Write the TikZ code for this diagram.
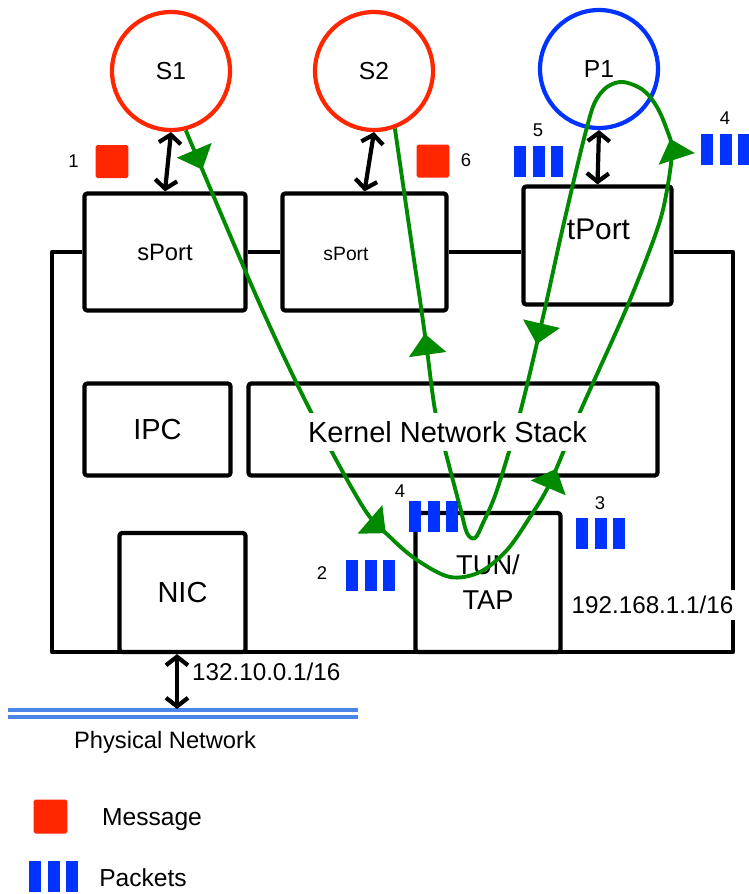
\documentclass[tikz,border=0pt]{standalone}
\usepackage{fontspec}
\setmainfont{Liberation Sans}
\usetikzlibrary{arrows.meta,decorations.markings}

\definecolor{msgred}{RGB}{255,38,0}
\definecolor{pktblue}{RGB}{0,51,255}
\definecolor{netblue}{RGB}{74,134,232}
\definecolor{flowgreen}{RGB}{0,138,0}
\newcommand{\fsz}[1]{\fontsize{#1}{#1}\selectfont}

\begin{document}
\begin{tikzpicture}[
  x=0.02cm,y=-0.02cm,
  line join=round,
  box/.style={draw,line width=2.4pt,rounded corners=1.5pt,inner sep=0pt},
  proc/.style={circle,draw,line width=2.4pt,minimum size=2.36cm,inner sep=0pt,font=\fsz{14}},
  msg/.style={fill=msgred,rounded corners=1pt,minimum size=0.66cm,inner sep=0pt},
  num/.style={font=\fsz{10.5},inner sep=0pt},
  txt/.style={inner sep=1pt},
  wire/.style={line width=2.4pt},
  dbl/.style={line width=2.4pt,{Straight Barb[length=0.17cm,width=0.44cm]}-{Straight Barb[length=0.17cm,width=0.44cm]}},
  flow/.style={flowgreen,line width=2.2pt},
  flowhead/.tip={Triangle[length=0.42cm,width=0.74cm]},
  pkts/.pic={\foreach \i in {0,1,2} \fill[pktblue] (\i*18.5,0) rectangle ++(12,31);}
]
\useasboundingbox (0,0) rectangle (749,894);

% processes and their ports
\node[proc,draw=msgred] (s1) at (171,71) {S1};
\node[proc,draw=msgred] (s2) at (374,71) {S2};
\node[proc,draw=pktblue] (p1) at (599,69) {P1};
\node[box,minimum width=3.22cm,minimum height=2.34cm,font=\fsz{13.5}] (sport1) at (165,252) {sPort};
\node[box,minimum width=3.28cm,minimum height=2.34cm] (sport2) at (364.5,252) {};
\node[txt,font=\fsz{11}] (sport2txt) at (346,254) {sPort};
\node[box,minimum width=2.96cm,minimum height=2.36cm] (tport) at (597.5,245.5) {};
\node[txt,font=\fsz{17}] (tporttxt) at (598.5,229) {tPort};

% kernel row and devices
\node[box,minimum width=2.92cm,minimum height=1.84cm,font=\fsz{16.5}] (ipc) at (157.5,429.5) {IPC};
\node[box,minimum width=8.18cm,minimum height=1.84cm] (kernel) at (453,429.5) {};
\node[box,minimum width=2.52cm,minimum height=2.38cm,font=\fsz{16.5}] (nic) at (182.5,592.5) {NIC};
\node[box,minimum width=2.9cm,minimum height=2.78cm,align=center,font=\fontsize{15.5}{20}\selectfont] (tun) at (488,582.5) {TUN/\\TAP};

% host frame
\coordinate (framebl) at (52,652);
\coordinate (framebr) at (733,652);
\draw[wire] (sport1.west) -| (framebl) -- (framebr) |- (tport.east |- sport2.east);
\draw[wire] (sport1.east) -- (sport2.west);
\draw[wire] (sport2.east) -- (sport2.east -| tport.west);

\draw[dbl] (s1.south) -- (sport1.north);
\draw[dbl] (s2.south) -- (sport2.north);
\draw[dbl] (p1.south) -- (tport.north);

% physical network
\coordinate (netl) at (8,713.5);
\coordinate (netr) at (358,713.5);
\coordinate (nettap) at (177,709);
\draw[netblue,line width=1.9pt,double=white,double distance=0.075cm] (netl) -- (netr);
\draw[dbl] (nic.south -| nettap) -- (nettap);
\node[txt,font=\fsz{13.8},anchor=west] (nicaddr) at (190,672) {132.10.0.1/16};
\node[txt,font=\fsz{13.5}] (netlbl) at (165,742) {Physical Network};

% packet path S1 -> TUN/TAP -> P1 -> TUN/TAP -> S2
\draw[flow,postaction={decorate},decoration={markings,
    mark=at position 0.021 with {\arrow{flowhead}},
    mark=at position 0.222 with {\arrow{flowhead}},
    mark=at position 0.34 with {\arrow{flowhead}},
    mark=at position 0.513 with {\arrow{flowhead}},
    mark=at position 0.692 with {\arrow{flowhead}},
    mark=at position 0.898 with {\arrow{flowhead}}}]
  plot[smooth,tension=0.55] coordinates {(s1.-76) (258,300) (310,410) (363,507) (390,537)
    (417,560) (450,577) (480,572) (507,550) (530,517) (550,483) (580,412) (627,307)
    (657,230) (667,190) (672,150) (667,130) (657,107) (643,90) (623,82) (607,87) (595,102)
    (587,127) (577,167) (560,240) (543,317) (520,413) (497,490) (483,523) (475,538)
    (467,533) (460,507) (445,450) (435,410) (427,350) (420,300) (413,253) (s2.-70)};

\node[fill=white,inner xsep=0.04cm,inner ysep=0.17cm,font=\fsz{16.5}] (kernellbl) at (447.5,432) {Kernel Network Stack};
\node[fill=white,inner xsep=0.04cm,inner ysep=0.13cm,font=\fsz{13.8}] (tunaddr) at (652.5,605) {192.168.1.1/16};

% messages and packets
\node[msg] (msg1) at (112,161.5) {};
\node[num] (msg1num) at (73.5,161.5) {1};
\node[msg] (msg6) at (433,161) {};
\node[num] (msg6num) at (466,160.5) {6};
\pic at (514,146) {pkts};
\node[num] (pkt5num) at (538,130) {5};
\pic at (701,134) {pkts};
\node[num] (pkt4num) at (725,118.5) {4};
\pic at (409,501) {pkts};
\node[num] (pkt4bnum) at (400,491.5) {4};
\pic at (576,518) {pkts};
\node[num] (pkt3num) at (600,503) {3};
\pic at (346,560) {pkts};
\node[num] (pkt2num) at (322,573.5) {2};

% legend
\node[msg,minimum size=0.68cm] (keymsg) at (50.5,816.5) {};
\node[txt,font=\fsz{14}] (keymsgtxt) at (152,819.5) {Message};
\pic at (29,861) {pkts};
\node[txt,font=\fsz{14}] (keypkttxt) at (143,878) {Packets};
\end{tikzpicture}
\end{document}
